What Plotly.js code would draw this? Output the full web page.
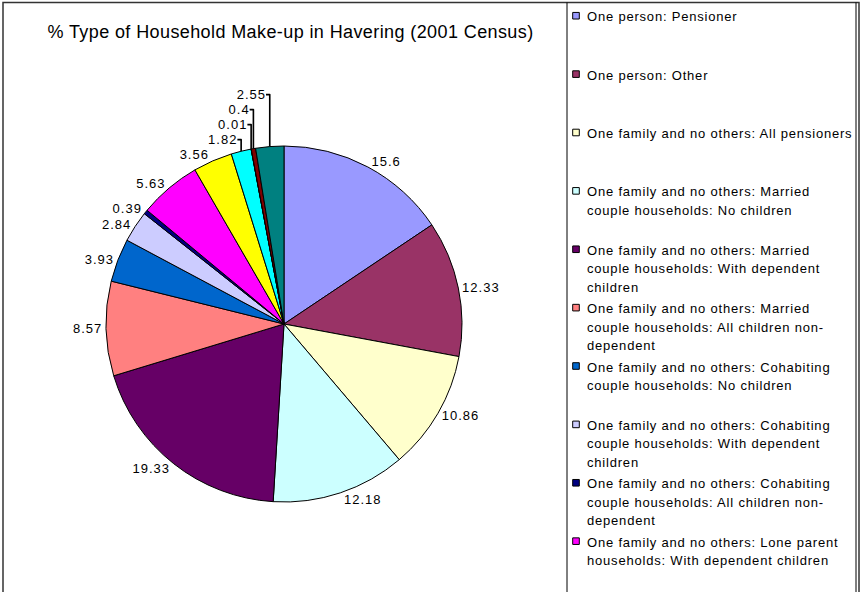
<!DOCTYPE html>
<html>
<head>
<meta charset="utf-8">
<script src="https://cdn.plot.ly/plotly-3.0.1.min.js"></script>
<style>
html, body { margin: 0; padding: 0; background: #fff; overflow: hidden; }
#chart { width: 861px; height: 592px; }
.legend .scrollbar { display: none; }
.legendtext { letter-spacing: 0.8px; }
.legend path.legendpie { transform: translate(29px, 0px) scale(0.55); vector-effect: non-scaling-stroke; }
.gtitle { letter-spacing: 0.4px; }
.slicetext { letter-spacing: 1px; }
</style>
</head>
<body>
<div id="chart"></div>
<script>
// ---- data ----
var categories = [
  "One person: Pensioner",
  "One person: Other",
  "One family and no others: All pensioners",
  "One family and no others: Married<br>couple households: No children",
  "One family and no others: Married<br>couple households: With dependent<br>children",
  "One family and no others: Married<br>couple households: All children non-<br>dependent",
  "One family and no others: Cohabiting<br>couple households: No children",
  "One family and no others: Cohabiting<br>couple households: With dependent<br>children",
  "One family and no others: Cohabiting<br>couple households: All children non-<br>dependent",
  "One family and no others: Lone parent<br>households: With dependent children",
  "One family and no others: Lone parent<br>households: All children non-<br>dependent",
  "Other households: With dependent<br>children",
  "Other households: All student",
  "Other households: All pensioner",
  "Other households: Other"
];
var values = [15.6, 12.33, 10.86, 12.18, 19.33, 8.57, 3.93, 2.84, 0.39, 5.63, 3.56, 1.82, 0.01, 0.4, 2.55];
var colors = ["#9999FF", "#993366", "#FFFFCC", "#CCFFFF", "#660066", "#FF8080", "#0066CC",
              "#CCCCFF", "#000080", "#FF00FF", "#FFFF00", "#00FFFF", "#800080", "#800000", "#008080"];
var titleText = "% Type of Household Make-up in Havering (2001 Census)";

// pad each legend label to 3 lines so entries are evenly spaced
function padLabel(s) {
  var n = s.split("<br>").length;
  var out = '<span style="font-size:13px;letter-spacing:0.8px">' + s + '</span>';
  for (var i = n; i < 3; i++) out += "<br> ";
  return out;
}
var legendLabels = categories.map(padLabel);

var W = 861, H = 592;
var trace = {
  type: "pie",
  labels: legendLabels,
  values: values,
  sort: false,
  direction: "clockwise",
  rotation: 0,
  marker: { colors: colors, line: { color: "#000000", width: 1 } },
  textinfo: "value",
  texttemplate: "%{value}",
  textposition: "outside",
  outsidetextfont: { family: "Liberation Sans, Arial, sans-serif", size: 13, color: "#000000" },
  hoverinfo: "label+value",
  domain: { x: [106 / W, 462 / W], y: [1 - 502 / H, 1 - 146 / H] },
  showlegend: true
};

var layout = {
  width: W, height: H,
  margin: { l: 0, r: 0, t: 0, b: 0 },
  paper_bgcolor: "#ffffff",
  font: { family: "Liberation Sans, Arial, sans-serif", color: "#000000" },
  title: {
    text: titleText,
    font: { family: "Liberation Sans, Arial, sans-serif", size: 18, color: "#000000" },
    x: 290.5 / W, xanchor: "center", xref: "paper",
    y: 1 - 32 / H, yanchor: "middle", yref: "paper"
  },
  legend: {
    x: 547 / W, xanchor: "left",
    y: 1, yanchor: "top",
    font: { family: "Liberation Sans, Arial, sans-serif", size: 14.2, color: "#000000" },
    valign: "top",
    bgcolor: "rgba(0,0,0,0)",
    borderwidth: 0
  },
  shapes: [
    { type: "rect", xref: "paper", yref: "paper", x0: 3 / W, x1: 859 / W, y0: -0.05, y1: 1 - 2.5 / H,
      line: { color: "#333333", width: 1.5 }, fillcolor: "rgba(0,0,0,0)" },
    { type: "line", xref: "paper", yref: "paper", x0: 567 / W, x1: 567 / W, y0: -0.05, y1: 1 - 2.5 / H,
      line: { color: "#000000", width: 1 } },
    { type: "line", xref: "paper", yref: "paper", x0: 856 / W, x1: 856 / W, y0: -0.05, y1: 1 - 2.5 / H,
      line: { color: "#000000", width: 1 } }
  ],
  showlegend: true
};

Plotly.newPlot("chart", [trace], layout, { displayModeBar: false, staticPlot: true });
</script>
</body>
</html>
